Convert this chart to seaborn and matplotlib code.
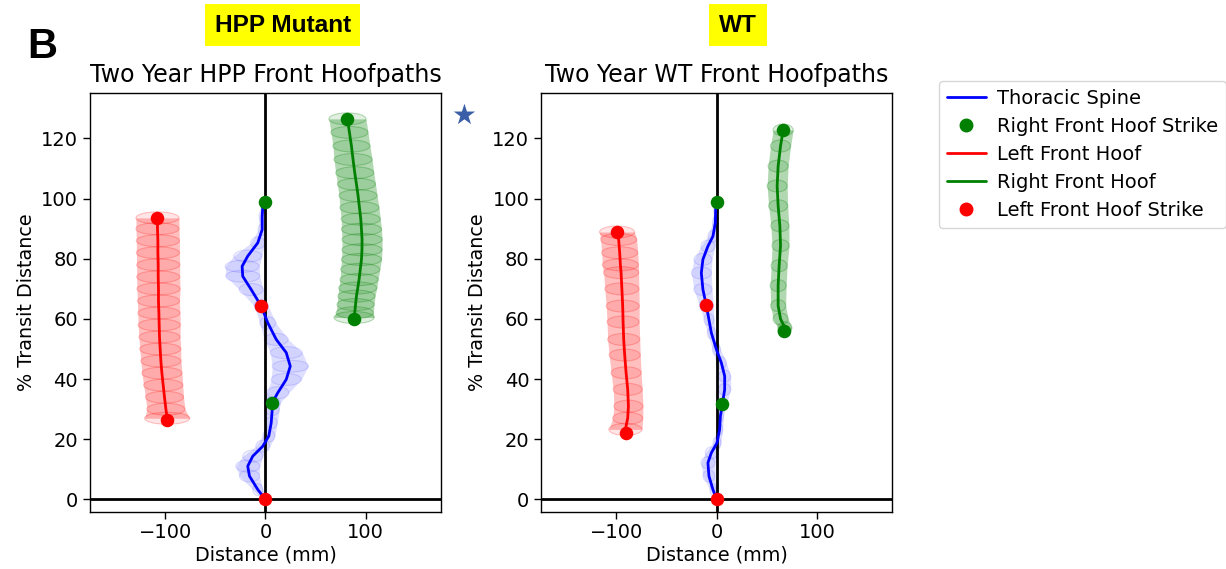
import matplotlib.pyplot as plt
import numpy as np
import pandas as pd
import seaborn as sns
from matplotlib.colors import to_rgba
from matplotlib.lines import Line2D
from matplotlib.patches import Ellipse

# ---- HPP mutant (left panel): lateral position x (mm), % transit y, spread width w (mm)
hpp_spine_y = [0, 3.3, 7.8, 11.1, 14.4, 17.7, 21.1, 25.5, 29.9, 32.1, 35.5, 39.9, 44.3,
               48.8, 53.2, 58.7, 64.3, 69.8, 74.2, 77.5, 80.9, 85.3, 89.7, 94.1, 97.4, 98.8]
hpp_spine_x = [0, -7.7, -16, -17.7, -12.7, -2.7, 3.3, 5.7, 6.7, 6.7, 12.3, 20.7, 24.7,
               20.7, 10.7, 2.3, -4.3, -14.3, -22.7, -23.3, -17.7, -7.7, -3.3, -3.3, -2.7, 0]
hpp_spine_w = [4, 10, 20, 24, 20, 14, 12, 12, 14, 16, 22, 30, 36,
               32, 24, 16, 14, 24, 34, 34, 28, 14, 8, 6, 4, 2]

hpp_left_y = [93.6, 90, 86, 82, 78, 74, 70, 66, 62, 58, 54, 50, 46, 42, 38, 34, 30, 27]
hpp_left_x = [-107.7, -107.7, -107.3, -107.3, -107, -107, -106.7, -106.7, -106.3, -106,
              -105.7, -105, -104.3, -103.3, -102, -100.7, -99.3, -98]
hpp_left_w = [43, 43, 43, 43, 43, 43, 43, 42, 42, 42, 41, 41, 40, 40, 39, 38, 38, 45]

hpp_right_y = [126.5, 122, 117.5, 113, 108.6, 104.8, 101, 97, 93.2, 89.8, 86.4, 83, 79.8,
               76.5, 73.1, 70.3, 67.6, 64.8, 62.1, 60.5]
hpp_right_x = [81.7, 83.7, 85.7, 87.3, 89, 90.7, 92.3, 93.7, 95, 95.7, 96.3, 96.2, 95.7,
               94.5, 93.3, 92, 90.7, 89.8, 89, 88.3]
hpp_right_w = [37, 37, 37, 38, 38, 38, 38, 39, 39, 40, 40, 40, 40, 39, 38, 38, 37, 37, 37, 40]

hpp_rf_strike_x = [0, 6.7, 81.7, 88.3]
hpp_rf_strike_y = [98.8, 32.1, 126.5, 60]
hpp_lf_strike_x = [0, -4.3, -107.7, -98]
hpp_lf_strike_y = [0, 64.3, 93.6, 26.3]

# ---- WT (right panel)
wt_spine_y = [0, 3.3, 7.8, 12.2, 15.5, 18.8, 23.3, 27.7, 31.6, 36.6, 41, 45.4, 49.9,
              55.4, 59.8, 64.5, 69.8, 75.3, 79.8, 84.2, 87.5, 92, 96.4, 98.8]
wt_spine_x = [0, -3.7, -7.7, -8.7, -5.3, 0.3, 3, 3.7, 5.7, 8, 8, 4.7, -0.3,
              -5.3, -7.7, -10.3, -13.7, -15.3, -13.7, -8.7, -3.7, -1.3, -1, 0]
wt_spine_w = [2, 6, 12, 14, 12, 8, 6, 6, 8, 12, 12, 10, 8,
              8, 10, 14, 18, 20, 18, 14, 10, 6, 4, 2]

wt_left_y = [88.9, 86.4, 82, 78, 75.4, 70, 64.3, 59, 53.2, 48, 42.1, 36.6, 31, 27, 23.3]
wt_left_x = [-99.3, -97.7, -96.7, -96, -95.3, -94.5, -93.7, -93.3, -92.7, -91.7, -90.3,
             -88.7, -88, -88.7, -91]
wt_left_w = [35, 36, 36, 36, 35, 34, 33, 32, 32, 31, 30, 29, 29, 30, 33]

wt_right_y = [122.8, 117.5, 110.8, 104.2, 97.6, 91, 84.4, 77.7, 71.1, 64.4, 60, 57.1, 56]
wt_right_x = [66.3, 63.7, 61.3, 60.3, 61.3, 63, 63.7, 62.3, 61.3, 61.3, 63.7, 68, 67]
wt_right_w = [20, 20, 20, 20, 19, 18, 17, 16, 16, 15, 15, 14, 12]

wt_rf_strike_x = [0, 5.7, 66.3, 67]
wt_rf_strike_y = [98.8, 31.6, 122.8, 56]
wt_lf_strike_x = [0, -10.3, -99.3, -90.3]
wt_lf_strike_y = [0, 64.5, 88.9, 22.2]

BLUE, RED, GREEN = "#0000ff", "#ff0000", "#008000"
ELLIPSE_H = 4.0
BAND_ALPHA = {BLUE: 0.13, RED: 0.25, GREEN: 0.3}


def draw_path(ax, xs, ys, ws, color):
    xs, ys, ws = np.asarray(xs), np.asarray(ys), np.asarray(ws)
    a = BAND_ALPHA[color]
    ax.fill_betweenx(ys, xs - ws / 2, xs + ws / 2, color=to_rgba(color, a),
                     lw=0, zorder=1)
    for x, y, w in zip(xs, ys, ws):
        ax.add_patch(Ellipse((x, y), w, ELLIPSE_H,
                             facecolor=to_rgba(color, a * 0.4),
                             edgecolor=to_rgba(color, a * 0.9), lw=0.8, zorder=1))
    path = pd.DataFrame({"x": xs, "y": ys})
    sns.lineplot(data=path, x="x", y="y", sort=False, estimator=None,
                 color=color, lw=2, ax=ax, zorder=4)


def draw_panel(ax, title, spine, left, right, rf, lf):
    ax.axhline(0, color="black", lw=2, zorder=3)
    ax.axvline(0, color="black", lw=2, zorder=3)
    draw_path(ax, *spine, BLUE)
    draw_path(ax, *left, RED)
    draw_path(ax, *right, GREEN)
    sns.scatterplot(x=rf[0], y=rf[1], color=GREEN, s=95, linewidth=0, ax=ax, zorder=5)
    sns.scatterplot(x=lf[0], y=lf[1], color=RED, s=95, linewidth=0, ax=ax, zorder=5)
    ax.set_xlim(-175, 175)
    ax.set_ylim(-4, 135)
    ax.set_xticks([-100, 0, 100])
    ax.set_yticks(np.arange(0, 121, 20))
    ax.set_title(title, fontsize=17, pad=8)
    ax.set_xlabel("Distance (mm)", fontsize=13.8, labelpad=2)
    ax.set_ylabel("% Transit Distance", fontsize=13.8)
    ax.tick_params(labelsize=14, length=5, width=1)
    for s in ax.spines.values():
        s.set_linewidth(1.0)
        s.set_color("black")


sns.set_style("ticks")
plt.rcParams["font.family"] = ["DejaVu Sans"]
plt.rcParams.update({"text.color": "black", "axes.labelcolor": "black",
                     "xtick.color": "black", "ytick.color": "black"})

fig = plt.figure(figsize=(12.26, 5.69), dpi=100)
ax1 = fig.add_axes([0.0734, 0.1010, 0.2863, 0.7350])
ax2 = fig.add_axes([0.4414, 0.1010, 0.2863, 0.7350])

draw_panel(ax1, "Two Year HPP Front Hoofpaths",
           (hpp_spine_x, hpp_spine_y, hpp_spine_w),
           (hpp_left_x, hpp_left_y, hpp_left_w),
           (hpp_right_x, hpp_right_y, hpp_right_w),
           (hpp_rf_strike_x, hpp_rf_strike_y),
           (hpp_lf_strike_x, hpp_lf_strike_y))
draw_panel(ax2, "Two Year WT Front Hoofpaths",
           (wt_spine_x, wt_spine_y, wt_spine_w),
           (wt_left_x, wt_left_y, wt_left_w),
           (wt_right_x, wt_right_y, wt_right_w),
           (wt_rf_strike_x, wt_rf_strike_y),
           (wt_lf_strike_x, wt_lf_strike_y))

handles = [
    Line2D([], [], color=BLUE, lw=2),
    Line2D([], [], color=GREEN, marker="o", ls="none", ms=9),
    Line2D([], [], color=RED, lw=2),
    Line2D([], [], color=GREEN, lw=2),
    Line2D([], [], color=RED, marker="o", ls="none", ms=9),
]
labels = ["Thoracic Spine", "Right Front Hoof Strike", "Left Front Hoof",
          "Right Front Hoof", "Left Front Hoof Strike"]
fig.legend(handles, labels, loc="upper left", bbox_to_anchor=(0.766, 0.858),
           fontsize=14, frameon=True, borderaxespad=0, labelspacing=0.47,
           handletextpad=0.6)

# panel letter, group labels and marker star
fig.text(0.022, 0.918, "B", fontsize=30, fontweight="bold",
         family="Liberation Sans", va="center")
for label, xc in [("HPP Mutant", 0.2305), ("WT", 0.602)]:
    fig.text(xc, 0.956, label, fontsize=17.6, fontweight="bold", family="Liberation Sans",
             ha="center", va="center",
             bbox=dict(facecolor="#ffff00", edgecolor="none", pad=7))
fig.text(0.378, 0.796, "\u2605", fontsize=20, color="#3a5fa8", ha="center", va="center")

fig.savefig("out.png", dpi=100)
